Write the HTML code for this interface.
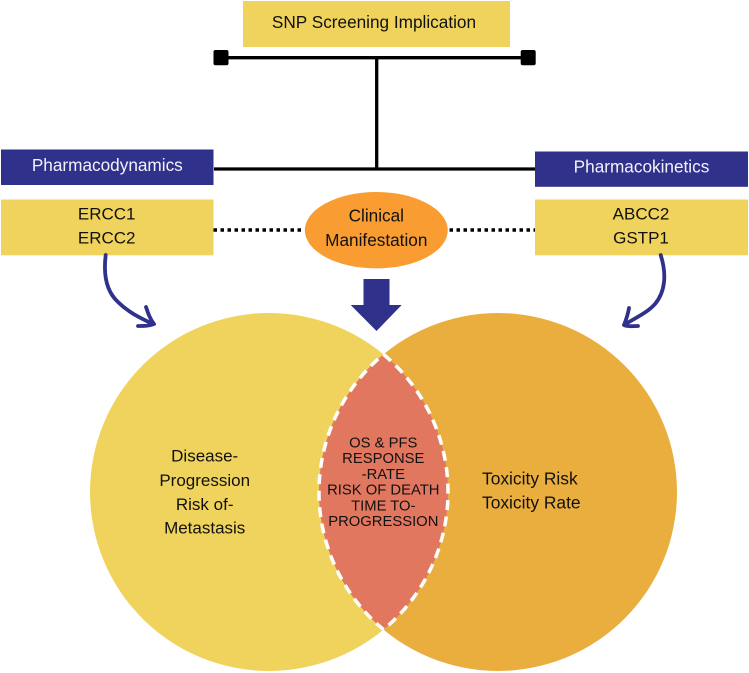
<!DOCTYPE html>
<html><head><meta charset="utf-8"><style>
html,body{margin:0;padding:0;background:#fff}
svg{display:block}
text{font-family:"Liberation Sans",Arial,sans-serif;text-anchor:middle;fill:#111}
</style></head><body>
<svg width="749" height="673" viewBox="0 0 749 673" xmlns="http://www.w3.org/2000/svg">
<defs>
<clipPath id="cl"><circle cx="269" cy="492" r="179"/></clipPath>
</defs>
<rect x="243" y="1" width="267" height="46" fill="#f0d35c"/>
<text x="374" y="28" font-size="17.2">SNP Screening Implication</text>
<path d="M221 57.700H529M376.700 57.700V169M214 169H535" fill="none" stroke="#000" stroke-width="3.300"/>
<rect x="213.500" y="50" width="15" height="15.300" rx="2" fill="#000"/>
<rect x="520.700" y="50" width="15" height="15.300" rx="2" fill="#000"/>
<rect x="1" y="149.500" width="212.500" height="35.500" fill="#30318b"/>
<text x="107.300" y="171" font-size="17.2" style="fill:#f2f2f8">Pharmacodynamics</text>
<rect x="535" y="151.500" width="213" height="35.300" fill="#30318b"/>
<text x="641.500" y="172.700" font-size="17.2" style="fill:#f2f2f8">Pharmacokinetics</text>
<rect x="1" y="199.500" width="212.500" height="55.800" fill="#f0d35c"/>
<text x="106.700" y="219.300" font-size="17">ERCC1</text>
<text x="106.700" y="243.300" font-size="17">ERCC2</text>
<rect x="535" y="199.500" width="213" height="55.800" fill="#f0d35c"/>
<text x="641" y="219.300" font-size="17">ABCC2</text>
<text x="641" y="243.300" font-size="17">GSTP1</text>
<path d="M213.500 230H304M449.500 230H535" stroke="#000" stroke-width="3.500" stroke-dasharray="3.500 3.500" fill="none"/>
<ellipse cx="376.300" cy="230.200" rx="71.500" ry="38.200" fill="#f99d33"/>
<text x="376.300" y="221.700" font-size="17.2">Clinical</text>
<text x="376.300" y="246" font-size="17.2">Manifestation</text>
<path d="M363.500 279H389.500V305H401.700L376.500 331L350.700 305H363.500Z" fill="#30318b"/>
<path d="M105.700 255C103 277 107 292 118 302C128 312 140 318 153 324M146 307C148 313 150 319 154 324C149 326 144 326 138 326" fill="none" stroke="#30318b" stroke-width="3.800" stroke-linecap="round" stroke-linejoin="round"/>
<path d="M660.700 255C667 275 665 292 655 304C647 313 635 318 624 325M629 308C628 314 626 320 624 325C628 327 633 326 638 326" fill="none" stroke="#30318b" stroke-width="3.800" stroke-linecap="round" stroke-linejoin="round"/>
<circle cx="269" cy="492" r="179" fill="#f0d35c"/>
<circle cx="498" cy="492" r="179" fill="#eaae3f"/>
<g clip-path="url(#cl)"><circle cx="498" cy="492" r="179" fill="#e2775f"/></g>
<path d="M383.500 354.400A179 179 0 0 1 383.500 629.600A179 179 0 0 1 383.500 354.400Z" fill="none" stroke="#fff" stroke-width="3.500" stroke-dasharray="10 6.500"/>
<text x="383.300" y="447.500" font-size="14.800">OS &amp; PFS</text>
<text x="383.300" y="463.200" font-size="14.800">RESPONSE</text>
<text x="383.300" y="478.900" font-size="14.800">-RATE</text>
<text x="383.300" y="494.600" font-size="14.800">RISK OF DEATH</text>
<text x="383.300" y="510.300" font-size="14.800">TIME TO-</text>
<text x="383.300" y="526" font-size="14.800">PROGRESSION</text>
<text x="204.700" y="461.500" font-size="17">Disease-</text>
<text x="204.700" y="486" font-size="17">Progression</text>
<text x="204.700" y="510" font-size="17">Risk of-</text>
<text x="204.700" y="533.700" font-size="17">Metastasis</text>
<text x="482" y="484.300" font-size="17.400" style="text-anchor:start">Toxicity Risk</text>
<text x="482" y="508.300" font-size="17.400" style="text-anchor:start">Toxicity Rate</text>
</svg>
</body></html>
